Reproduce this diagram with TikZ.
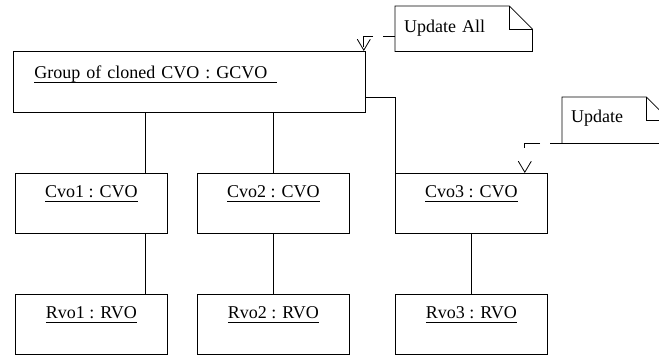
\documentclass[tikz,border=0pt]{standalone}
\usepackage{fontspec}
\setmainfont{Liberation Serif}
\usetikzlibrary{arrows.meta,calc}
\newcommand{\objname}[1]{\setbox0\hbox{#1}\rlap{\rule[-4.5pt]{\wd0}{0.9pt}}\box0}
\tikzstyle{obj}   = [draw, line width=0.8pt, inner sep=0pt, anchor=north west, minimum width=152pt, text height=24pt, text depth=36pt]
\tikzstyle{group} = [draw, line width=0.8pt, anchor=north west, inner ysep=0pt, inner xsep=21pt, text width=310pt, align=left, text height=27pt, text depth=34pt]
\tikzstyle{note}  = [anchor=north west, inner ysep=0pt, inner xsep=9pt, align=left]
\tikzstyle{link}  = [line width=0.8pt]
\tikzstyle{dep}   = [line width=0.8pt, dash pattern=on 12pt off 10pt on 20pt off 25pt, -{Straight Barb[length=11pt,width=13pt]}]

\begin{document}
\begin{tikzpicture}[x=1pt,y=-1pt,font=\fontsize{18}{20}\selectfont]
		\useasboundingbox (0,0) rectangle (659,356);
		\clip (0,0) rectangle (659,356);

		% objects
		\node[group] (gcvo) at (13,51) {\objname{Group of cloned CVO : GCVO\hspace{10pt}}};

		\node[obj] (cvo1) at (15,173) {\objname{Cvo1 : CVO}};
		\node[obj] (cvo2) at (197,173) {\objname{Cvo2 : CVO}};
		\node[obj] (cvo3) at (395,173) {\objname{Cvo3 : CVO}};

		\node[obj] (rvo1) at (15,294) {\objname{Rvo1 : RVO}};
		\node[obj] (rvo2) at (197,294) {\objname{Rvo2 : RVO}};
		\node[obj] (rvo3) at (395,294) {\objname{Rvo3 : RVO}};

		% notes
		\node[note, text width=119pt, text height=26pt, text depth=19pt] (updall) at (395,6) {Update All};
		\node[note, text width=89pt, text height=25pt, text depth=21pt] (upd) at (562,97) {Update};

		\draw[link] (updall.north west) -- ([xshift=-23pt]updall.north east) -- ([yshift=-23pt]updall.north east) -- (updall.south east) -- (updall.south west) -- cycle;
		\draw[link] ([xshift=-23pt]updall.north east) |- ([yshift=-23pt]updall.north east);
		\draw[link] (upd.north west) -- ([xshift=-23pt]upd.north east) -- ([yshift=-23pt]upd.north east) -- (upd.south east) -- (upd.south west) -- cycle;
		\draw[link] ([xshift=-23pt]upd.north east) |- ([yshift=-23pt]upd.north east);

		% links
		\draw[link] ([xshift=-22pt]cvo1.north east) -- ([xshift=-22pt]cvo1.north east |- gcvo.south);
		\draw[link] (cvo2.north) -- (cvo2.north |- gcvo.south);
		\draw[link] ([yshift=15pt]gcvo.south east) -| (cvo3.north west);

		\draw[link] ([xshift=-22pt]cvo1.south east) -- ([xshift=-22pt]rvo1.north east);
		\draw[link] (cvo2.south) -- (rvo2.north);
		\draw[link] (cvo3.south) -- (rvo3.north);

		\draw[dep] ([yshift=15pt]updall.south west) -| ([xshift=-2pt]gcvo.north east);
		\draw[dep] (upd.south west) -| ([xshift=-23pt]cvo3.north east);
	\end{tikzpicture}
\end{document}
